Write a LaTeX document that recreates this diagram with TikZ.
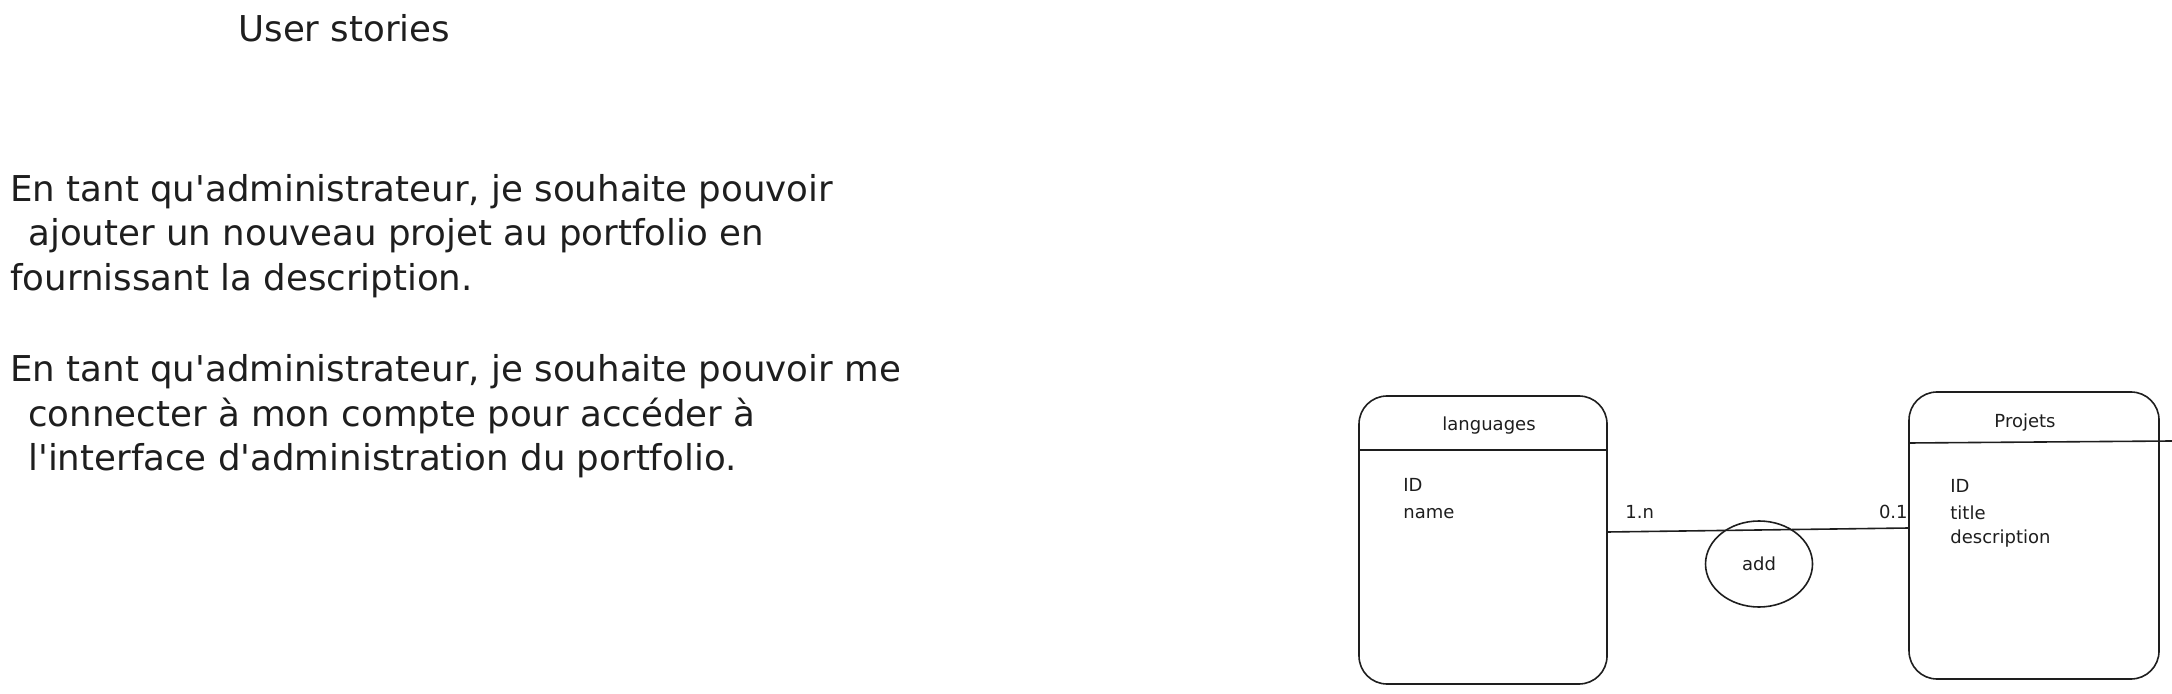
\documentclass[tikz,border=0pt]{standalone}
\usepackage{fontspec}
\setmainfont{DejaVu Sans}
\usetikzlibrary{shapes.geometric}
\definecolor{ink}{HTML}{1E1E1E}
\newcommand{\sq}{\textquotesingle}
\tikzset{
  bigtext/.style={anchor=base west, inner sep=0pt, font=\fontsize{17.8}{22}\selectfont, text=ink},
  smalltext/.style={anchor=base west, inner sep=0pt, font=\fontsize{9}{11}\selectfont, text=ink},
  entity/.style={draw=ink, line width=0.8pt, rounded corners=14pt, inner sep=0pt},
  link/.style={draw=ink, line width=0.8pt},
  assoc/.style={ellipse, draw=ink, line width=0.8pt, inner sep=0pt, minimum width=53.5pt, minimum height=43pt, font=\fontsize{9}{11}\selectfont, text=ink}
}
\begin{document}
\begin{tikzpicture}[x=0.5pt,y=-0.5pt]
\useasboundingbox (0,0) rectangle (2172,694);
% title and user stories
\node[bigtext] (title) at (238,42) {User stories};
\node[bigtext] (s1a) at (10,202) {En tant qu\sq administrateur, je souhaite pouvoir};
\node[bigtext] (s1b) at (28,246) {ajouter un nouveau projet au portfolio en};
\node[bigtext] (s1c) at (10,291) {fournissant la description.};
\node[bigtext] (s2a) at (10,382) {En tant qu\sq administrateur, je souhaite pouvoir me};
\node[bigtext] (s2b) at (28,427) {connecter à mon compte pour accéder à};
\node[bigtext] (s2c) at (28,471) {l\sq interface d\sq administration du portfolio.};
% entities
\node[entity, minimum width=124pt, minimum height=144pt] (lang) at (1483,540) {};
\node[entity, minimum width=125pt, minimum height=143.5pt] (proj) at (2034,535.5) {};
\coordinate (langhl) at (1359,450);
\coordinate (langhr) at (1607,450);
\draw[link] (langhl) -- (langhr);
\coordinate (projhl) at (1909,443);
\coordinate (projhr) at (2172,441);
\draw[link] (projhl) -- (projhr);
\node[smalltext, anchor=base] (langt) at (1489,431) {languages};
\node[smalltext, anchor=base] (projt) at (2025,428) {Projets};
\node[smalltext] (lid) at (1403,492) {ID};
\node[smalltext] (lname) at (1403,518) {name};
\node[smalltext] (pid) at (1950,493) {ID};
\node[smalltext] (ptitle) at (1950,519) {title};
\node[smalltext] (pdesc) at (1950,544) {description};
% association
\coordinate (la) at (1607,532);
\coordinate (pa) at (1909,528);
\draw[link] (la) -- (pa);
\node[assoc] (add) at (1759,564) {add};
\node[smalltext] (c1) at (1625,518) {1.n};
\node[smalltext, anchor=base east] (c2) at (1908,518) {0.1};
\end{tikzpicture}
\end{document}
